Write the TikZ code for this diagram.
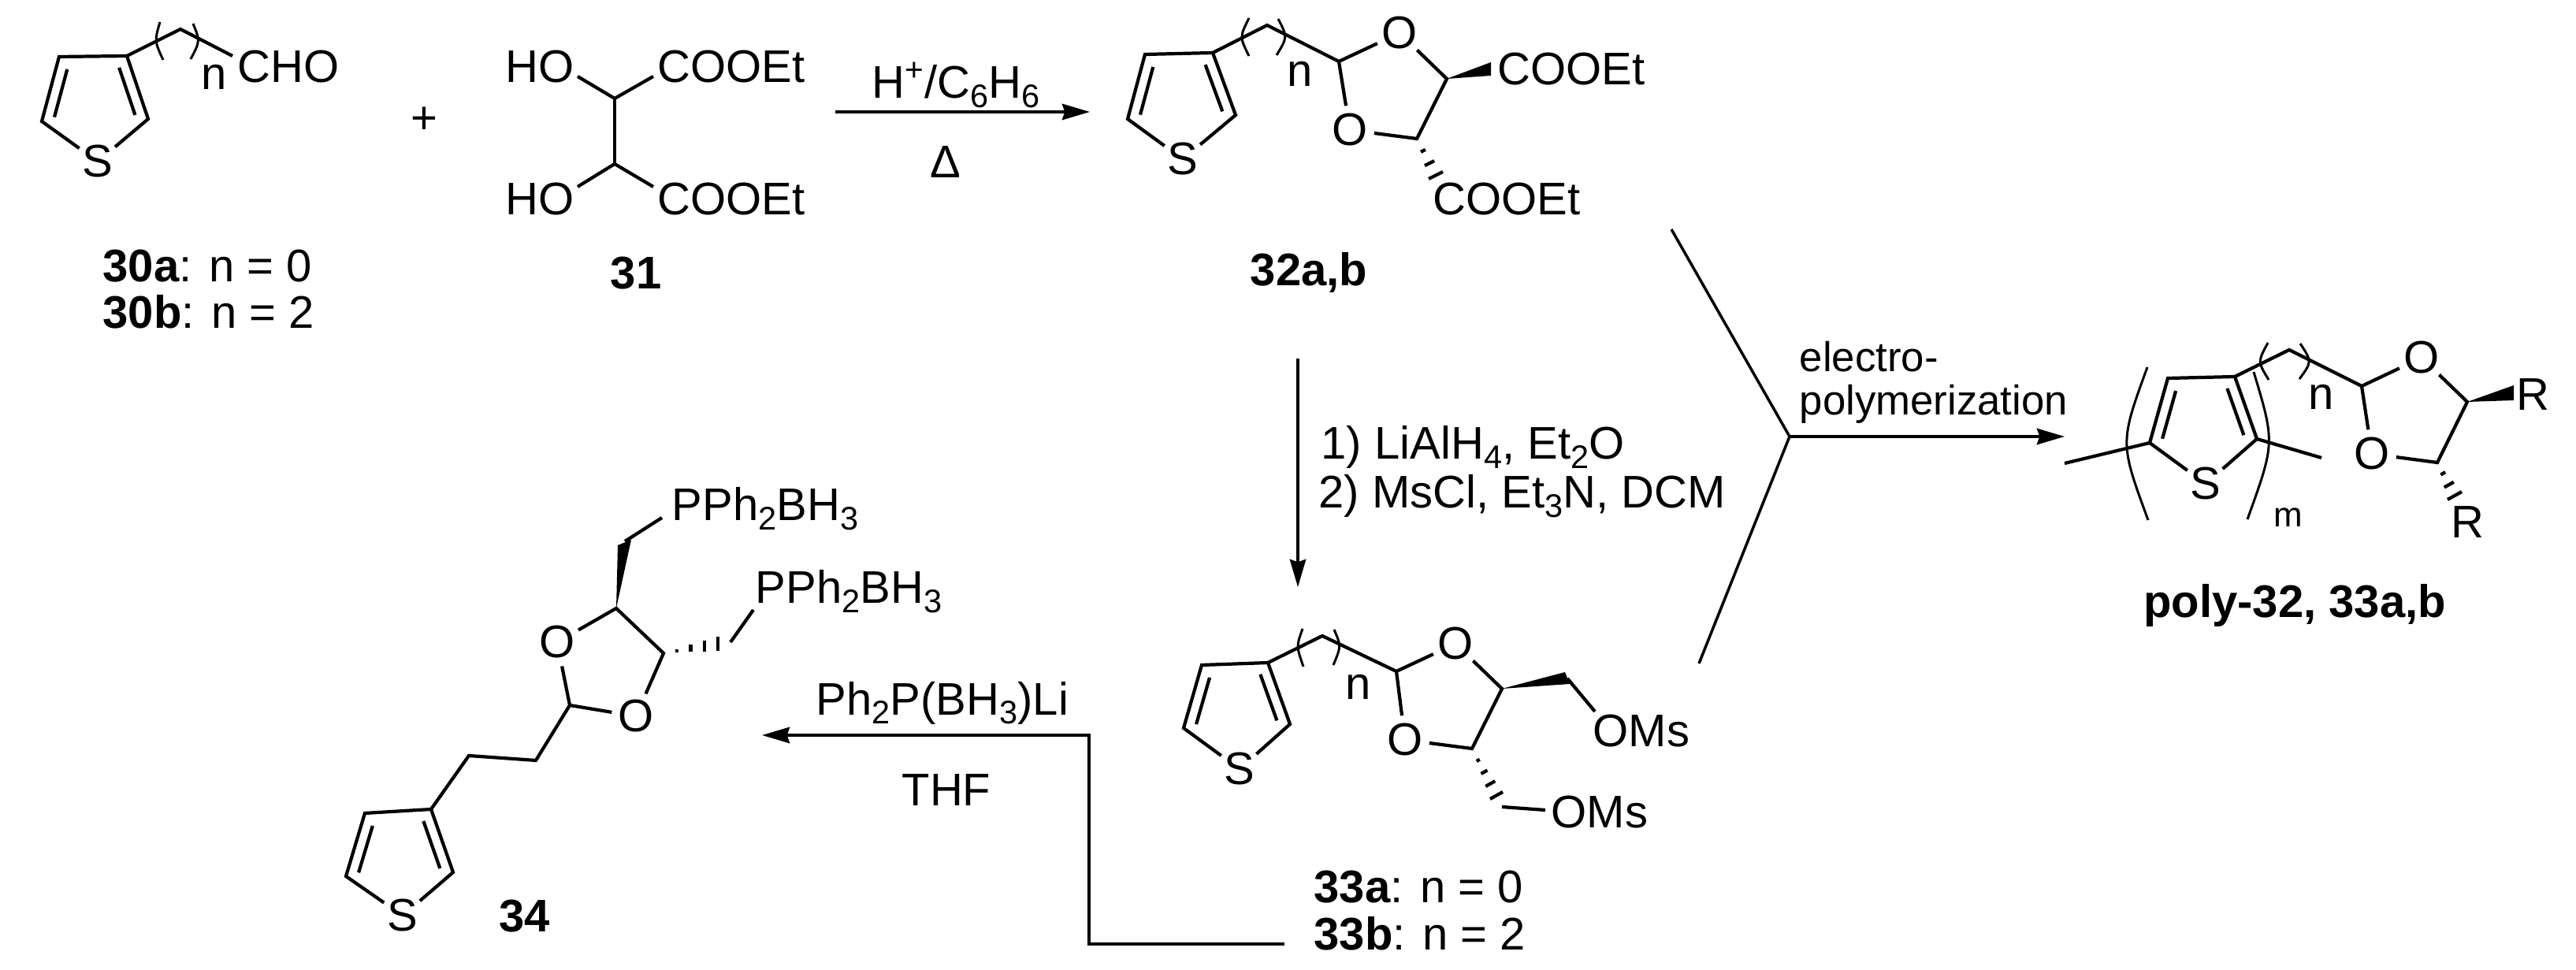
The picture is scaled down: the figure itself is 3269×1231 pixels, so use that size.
\documentclass[tikz,border=0pt]{standalone}
\usepackage{fontspec}
\setmainfont{Liberation Sans}
\usetikzlibrary{arrows.meta,calc}
\newcommand{\chemfont}{\fontsize{16.5}{20}\selectfont}
\newcommand{\lowr}[1]{\raisebox{-3.2pt}{\fontsize{11.8}{14}\selectfont #1}}
\newcommand{\thienyl}[1]{
  \draw[bond] (#1S) -- (#1e) -- (#1a) -- (#1b) -- (#1c) -- (#1S);
  \draw[bond] ($(#1a)!.15!(#1e)!4pt!90:(#1e)$) -- ($(#1a)!.89!(#1e)!4pt!90:(#1e)$);
  \draw[bond] ($(#1c)!.12!(#1b)!4pt!90:(#1b)$) -- ($(#1c)!.87!(#1b)!4pt!90:(#1b)$);
}
\newcommand{\hashbond}[4]{
  \foreach \hfrac in {#4}
    \draw[bond] ($(#1)!\hfrac!(#2)$) -- ($(#1)!\hfrac!(#3)$);
}
\tikzset{
  bond/.style={line width=1.2pt},
  paren/.style={line width=.85pt},
  rxn/.style={line width=1pt,-{Stealth[length=10pt,width=5.8pt,inset=1pt]}},
  atom/.style={circle,inner sep=0pt},
  txt/.style={inner sep=0pt,anchor=base},
  txtl/.style={inner sep=0pt,anchor=base west}
}

\begin{document}
\begin{tikzpicture}[x=0.01cm,y=-0.01cm,every node/.style={font=\chemfont}]
  \useasboundingbox (0,0) rectangle (3269,1231);

  % aldehyde 30
  \coordinate (t30a) at (75,72);
  \coordinate (t30b) at (161,71);
  \coordinate (t30c) at (188,151);
  \coordinate (t30e) at (53,154);
  \node[atom] (t30S) at (124,205) {S};
  \thienyl{t30}
  \coordinate (ch30) at (229,37);
  \coordinate (end30) at (295,71);
  \draw[bond] (t30b) -- (ch30) -- (end30);
  \draw[paren] (203,28) .. controls (196,52) .. (207,76);
  \draw[paren] (245,30) .. controls (254,52) .. (242,75);
  \node[atom] (n30) at (272,98) {n};
  \node[atom] (cho30) at (366,85) {CHO};
  \node[txtl] (lab30a) at (130,358) {\textbf{30a}: n = 0};
  \node[txtl] (lab30b) at (130,417) {\textbf{30b}: n = 2};
  \node (plus) at (538,153) {+};

  % tartrate 31
  \coordinate (c31a) at (780,125);
  \coordinate (c31b) at (780,208);
  \coordinate (oh31a) at (733,97);
  \coordinate (es31a) at (829,97);
  \coordinate (oh31b) at (733,237);
  \coordinate (es31b) at (829,237);
  \draw[bond] (oh31a) -- (c31a) -- (es31a);
  \draw[bond] (oh31b) -- (c31b) -- (es31b);
  \draw[bond] (c31a) -- (c31b);
  \node[atom] (ho31a) at (685,85) {HO};
  \node[atom] (ho31b) at (685,253) {HO};
  \node[atom] (coo31a) at (928,85) {COOEt};
  \node[atom] (coo31b) at (928,253) {COOEt};
  \node[txt] (lab31) at (807,367) {\textbf{31}};

  % first arrow
  \coordinate (rxnAs) at (1060,142);
  \coordinate (rxnAe) at (1383,142);
  \draw[rxn] (rxnAs) -- (rxnAe);
  \node[txt] (acid) at (1213,125) {H\textsuperscript{+}/C\lowr{6}H\lowr{6}};
  \node[txt] (heat) at (1200,226) {Δ};

  % dioxolane 32
  \coordinate (t32a) at (1453,69);
  \coordinate (t32b) at (1539,67);
  \coordinate (t32c) at (1568,146);
  \coordinate (t32e) at (1431,151);
  \node[atom] (t32S) at (1501,202) {S};
  \thienyl{t32}
  \coordinate (ch32) at (1608,32);
  \coordinate (ac32) at (1699,78);
  \coordinate (c32a) at (1836,100);
  \coordinate (c32b) at (1798,176);
  \node[atom] (o32a) at (1776,42) {O};
  \node[atom] (o32b) at (1713,165) {O};
  \draw[bond] (t32b) -- (ch32) -- (ac32) -- (o32a) -- (c32a) -- (c32b) -- (o32b) -- (ac32);
  \draw[paren] (1585,23) .. controls (1573,47) .. (1585,71);
  \draw[paren] (1622,24) .. controls (1634,47) .. (1620,70);
  \node[atom] (n32) at (1650,94) {n};
  \coordinate (w32a) at (1892,79);
  \coordinate (w32b) at (1892,96);
  \fill (c32a) -- (w32a) -- (w32b) -- cycle;
  \coordinate (h32a) at (1813,227);
  \coordinate (h32b) at (1831,218);
  \hashbond{c32b}{h32a}{h32b}{.33,.67,1}
  \node[atom] (coo32a) at (1994,88) {COOEt};
  \node[atom] (coo32b) at (1912,253) {COOEt};
  \node[txt] (lab32) at (1661,363) {\textbf{32a,b}};

  % second arrow
  \coordinate (rxnBs) at (1647,455);
  \coordinate (rxnBe) at (1647,745);
  \draw[rxn] (rxnBs) -- (rxnBe);
  \node[txtl] (stepA) at (1676,583) {1) LiAlH\lowr{4}, Et\lowr{2}O};
  \node[txtl] (stepB) at (1673,645) {2) MsCl, Et\lowr{3}N, DCM};

  % fork to the polymer
  \coordinate (forkA) at (2121,291);
  \coordinate (forkM) at (2271,554);
  \coordinate (forkB) at (2156,842);
  \coordinate (rxnCe) at (2620,554);
  \draw[line width=1pt] (forkA) -- (forkM) -- (forkB);
  \draw[rxn] (forkM) -- (rxnCe);
  \node[txtl,font=\fontsize{15}{18}\selectfont] (elec) at (2283,472) {electro-};
  \node[txtl,font=\fontsize{15}{18}\selectfont] (poly) at (2283,527) {polymerization};

  % polymer
  \coordinate (tpa) at (2751,480);
  \coordinate (tpb) at (2836,478);
  \coordinate (tpc) at (2864,557);
  \coordinate (tpe) at (2728,562);
  \node[atom] (tpS) at (2799,614) {S};
  \thienyl{tp}
  \coordinate (stubA) at (2620,588);
  \coordinate (stubB) at (2946,581);
  \draw[bond] (stubA) -- (tpe);
  \draw[bond] (tpc) -- (stubB);
  \coordinate (chp) at (2905,444);
  \coordinate (acp) at (2997,490);
  \coordinate (cpa) at (3131,510);
  \coordinate (cpb) at (3093,587);
  \node[atom] (opa) at (3073,454) {O};
  \node[atom] (opb) at (3010,576) {O};
  \draw[bond] (tpb) -- (chp) -- (acp) -- (opa) -- (cpa) -- (cpb) -- (opb) -- (acp);
  \draw[paren] (2878,435) .. controls (2865,459) .. (2879,482);
  \draw[paren] (2919,436) .. controls (2934,459) .. (2918,481);
  \draw[paren] (2725,466) .. controls (2690,562) .. (2726,660);
  \draw[paren] (2860,472) .. controls (2887,562) .. (2852,659);
  \node[atom] (np) at (2946,504) {n};
  \node[atom,font=\fontsize{12.5}{15}\selectfont] (mp) at (2904,657) {m};
  \coordinate (wpa) at (3190,489);
  \coordinate (wpb) at (3190,508);
  \fill (cpa) -- (wpa) -- (wpb) -- cycle;
  \coordinate (hpa) at (3106,634);
  \coordinate (hpb) at (3124,624);
  \hashbond{cpb}{hpa}{hpb}{.33,.67,1}
  \node[atom] (rpa) at (3214,501) {R};
  \node[atom] (rpb) at (3131,663) {R};
  \node[txt] (labp) at (2912,784) {\textbf{poly-32, 33a,b}};

  % dioxolane 33
  \coordinate (t33a) at (1525,844);
  \coordinate (t33b) at (1609,841);
  \coordinate (t33c) at (1637,919);
  \coordinate (t33e) at (1502,924);
  \node[atom] (t33S) at (1573,976) {S};
  \thienyl{t33}
  \coordinate (ch33) at (1678,807);
  \coordinate (ac33) at (1772,852);
  \coordinate (c33a) at (1906,874);
  \coordinate (c33b) at (1868,950);
  \node[atom] (o33a) at (1847,817) {O};
  \node[atom] (o33b) at (1783,939) {O};
  \draw[bond] (t33b) -- (ch33) -- (ac33) -- (o33a) -- (c33a) -- (c33b) -- (o33b) -- (ac33);
  \draw[paren] (1653,798) .. controls (1645,820) .. (1654,846);
  \draw[paren] (1693,799) .. controls (1702,820) .. (1692,844);
  \node[atom] (n33) at (1724,872) {n};
  \coordinate (w33a) at (1986,853);
  \coordinate (w33b) at (1992,868);
  \coordinate (m33a) at (1989,861);
  \coordinate (ms33a) at (2024,903);
  \fill (c33a) -- (w33a) -- (w33b) -- cycle;
  \draw[bond] (m33a) -- (ms33a);
  \coordinate (h33a) at (1891,1014);
  \coordinate (h33b) at (1907,1005);
  \hashbond{c33b}{h33a}{h33b}{.25,.5,.75,1}
  \coordinate (m33b) at (1906,1024);
  \coordinate (ms33b) at (1961,1028);
  \draw[bond] (m33b) -- (ms33b);
  \node[atom] (oms33a) at (2083,928) {OMs};
  \node[atom] (oms33b) at (2030,1031) {OMs};
  \node[txtl] (lab33a) at (1667,1145) {\textbf{33a}: n = 0};
  \node[txtl] (lab33b) at (1667,1205) {\textbf{33b}: n = 2};

  % third arrow, elbow from 33b
  \coordinate (rxnDs) at (1630,1198);
  \coordinate (rxnDk) at (1382,1198);
  \coordinate (rxnDj) at (1382,933);
  \coordinate (rxnDe) at (967,933);
  \draw[rxn] (rxnDs) -- (rxnDk) -- (rxnDj) -- (rxnDe);
  \node[txt] (phos) at (1196,907) {Ph\lowr{2}P(BH\lowr{3})Li};
  \node[txt] (thf) at (1201,1022) {THF};

  % phosphine 34
  \coordinate (t34a) at (463,1032);
  \coordinate (t34b) at (547,1027);
  \coordinate (t34c) at (575,1107);
  \coordinate (t34e) at (439,1112);
  \node[atom] (t34S) at (511,1162) {S};
  \thienyl{t34}
  \coordinate (ch34a) at (595,959);
  \coordinate (ch34b) at (680,965);
  \coordinate (ac34) at (723,895);
  \coordinate (c34a) at (782,772);
  \coordinate (c34b) at (842,829);
  \node[atom] (o34a) at (707,815) {O};
  \node[atom] (o34b) at (807,909) {O};
  \draw[bond] (t34b) -- (ch34a) -- (ch34b) -- (ac34) -- (o34a) -- (c34a) -- (c34b) -- (o34b) -- (ac34);
  \coordinate (w34a) at (784,692);
  \coordinate (w34b) at (801,685);
  \coordinate (m34a) at (793,687);
  \coordinate (p34a) at (840,657);
  \fill (c34a) -- (w34a) -- (w34b) -- cycle;
  \draw[bond] (m34a) -- (p34a);
  \coordinate (h34a) at (911,808);
  \coordinate (h34b) at (911,826);
  \hashbond{c34b}{h34a}{h34b}{.25,.5,.75,1}
  \coordinate (m34b) at (927,815);
  \coordinate (p34b) at (956,774);
  \draw[bond] (m34b) -- (p34b);
  \node[txt] (pph34a) at (971,661) {PPh\lowr{2}BH\lowr{3}};
  \node[txt] (pph34b) at (1077,766) {PPh\lowr{2}BH\lowr{3}};
  \node[txt] (lab34) at (666,1182) {\textbf{34}};
\end{tikzpicture}
\end{document}
